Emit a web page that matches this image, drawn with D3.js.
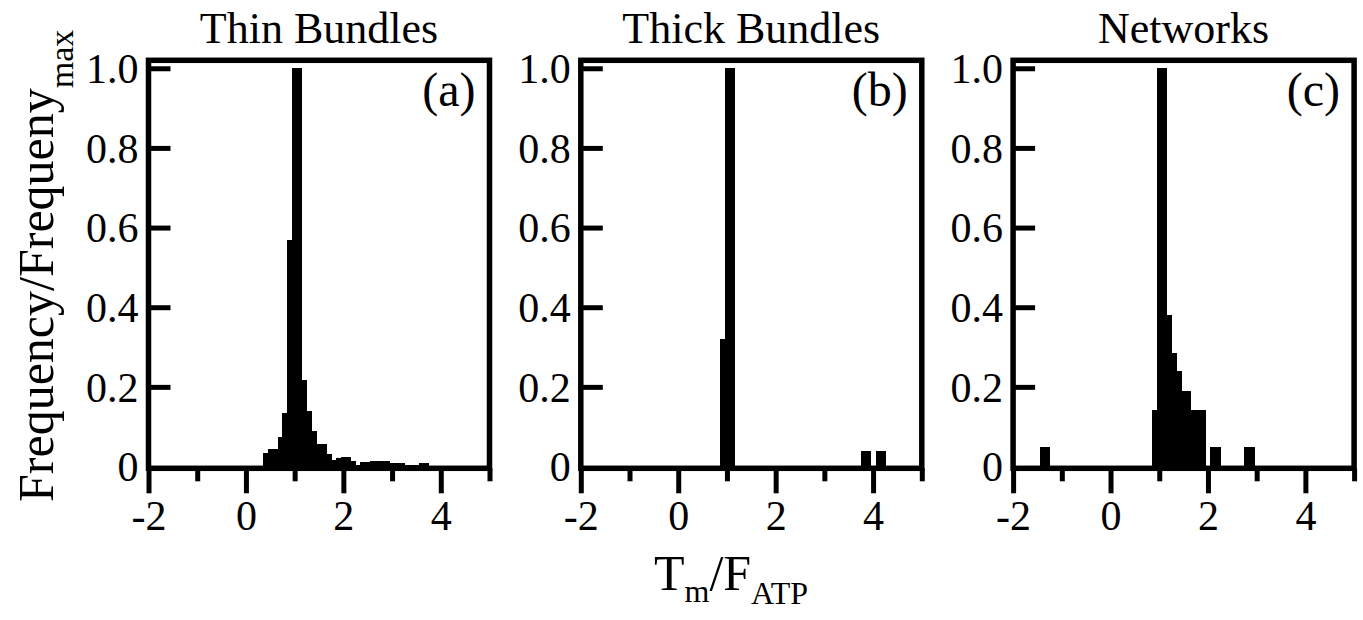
<!DOCTYPE html>
<html>
<head>
<meta charset="utf-8">
<script src="https://cdn.jsdelivr.net/npm/d3@7"></script>
<style>
    body { margin: 0; background: #fff; }
    svg text { font-family: 'Liberation Serif', 'DejaVu Serif', serif; fill: #000; }
</style>
</head>
<body>
<div id="chart"></div>
<script>
var panelTitles = ['Thin Bundles', 'Thick Bundles', 'Networks'];
var panelTags = ['(a)', '(b)', '(c)'];

var binWidth = 0.1;

var thinBinStarts = [0.35, 0.45, 0.55, 0.65, 0.75, 0.85, 0.95, 1.05, 1.15, 1.25, 1.35, 1.45,
    1.55, 1.65, 1.75, 1.85, 1.95, 2.05, 2.15, 2.25, 2.35, 2.45, 2.55, 2.65, 2.75, 2.85,
    2.95, 3.05, 3.15, 3.25, 3.35, 3.45, 3.55, 3.65];
var thinValues = [0.035, 0.044, 0.044, 0.073, 0.135, 0.57, 1.0, 1.0, 0.217, 0.14, 0.088, 0.057,
    0.057, 0.031, 0.017, 0.021, 0.023, 0.023, 0.015, 0.005, 0.0125, 0.0125, 0.015, 0.015, 0.015, 0.015,
    0.0085, 0.0085, 0.0085, 0.004, 0.004, 0.004, 0.0085, 0.0085];

var thickBinStarts = [0.85, 0.95, 1.05, 3.75, 3.85, 4.05, 4.15];
var thickValues = [0.32, 1.0, 1.0, 0.04, 0.04, 0.04, 0.04];

var networkBinStarts = [-1.45, -1.35, 0.85, 0.95, 1.05, 1.15, 1.25, 1.35, 1.45, 1.55, 1.65, 1.75,
    1.85, 2.05, 2.15, 2.75, 2.85];
var networkValues = [0.05, 0.05, 0.142, 1.0, 1.0, 0.38, 0.285, 0.24, 0.19, 0.19, 0.142, 0.142,
    0.142, 0.05, 0.05, 0.05, 0.05];

var xDomain = [-2, 5];
var yDomain = [-0.0045, 1.02];
var xMajorTicks = [-2, 0, 2, 4];
var xMinorTicks = [-1, 1, 3, 5];
var yTicks = [0, 0.2, 0.4, 0.6, 0.8, 1.0];

var series = [
    { starts: thinBinStarts, values: thinValues },
    { starts: thickBinStarts, values: thickValues },
    { starts: networkBinStarts, values: networkValues }
];

var width = 1363;
var height = 620;
var panelLeft = [148.5, 580.8, 1013.1];
var panelWidth = 341;
var plotTop = 60.3;
var plotBottom = 468.3;
var frameWidth = 5.5;

var svg = d3.select('#chart').append('svg')
    .attr('width', width)
    .attr('height', height);

var y = d3.scaleLinear().domain(yDomain).range([plotBottom, plotTop]);

var yFormat = function(d) {
    return d === 0 ? '0' : d3.format('.1f')(d);
};

series.forEach(function(s, i) {
    var x = d3.scaleLinear().domain(xDomain).range([panelLeft[i], panelLeft[i] + panelWidth]);
    var bins = s.starts.map(function(start, j) {
        return { x0: start, x1: start + binWidth, value: s.values[j] };
    });

    var g = svg.append('g').attr('class', 'panel');

    g.append('g')
        .attr('shape-rendering', 'crispEdges')
        .selectAll('rect').data(bins)
        .enter()
        .append('rect')
        .attr('x', function(d) { return x(d.x0); })
        .attr('width', function(d) { return x(d.x1) - x(d.x0) + 0.5; })
        .attr('y', function(d) { return y(d.value); })
        .attr('height', function(d) { return y(0) - y(d.value); })
        .attr('fill', '#000');

    // y ticks point inward
    var yAxis = g.append('g')
        .attr('transform', 'translate(' + panelLeft[i] + ',0)')
        .call(d3.axisLeft(y).tickValues(yTicks).tickFormat(yFormat).tickSize(-22).tickPadding(10));

    var xMajor = g.append('g')
        .attr('transform', 'translate(0,' + plotBottom + ')')
        .call(d3.axisBottom(x).tickValues(xMajorTicks).tickFormat(d3.format('d')).tickSize(25).tickPadding(7));

    var xMinor = g.append('g')
        .attr('transform', 'translate(0,' + plotBottom + ')')
        .call(d3.axisBottom(x).tickValues(xMinorTicks).tickFormat('').tickSize(13));

    [yAxis, xMajor, xMinor].forEach(function(axis) {
        axis.attr('font-size', 42).attr('font-family', null);
        axis.select('.domain').remove();
        axis.selectAll('line').attr('stroke', '#000').attr('stroke-width', 5);
        axis.selectAll('text').attr('fill', '#000');
    });
    yAxis.selectAll('.tick').filter(function(d) { return d === 0; }).select('line').remove();
    yAxis.selectAll('text').attr('dy', '0.34em');
    xMajor.selectAll('text').attr('dy', '0.7em').text(function(d) { return d < 0 ? '-' + Math.abs(d) : d; });

    g.append('rect')
        .attr('x', panelLeft[i])
        .attr('y', plotTop)
        .attr('width', panelWidth)
        .attr('height', plotBottom - plotTop)
        .attr('fill', 'none')
        .attr('stroke', '#000')
        .attr('stroke-width', frameWidth);

    g.append('text')
        .attr('x', panelLeft[i] + panelWidth / 2)
        .attr('y', 43)
        .attr('text-anchor', 'middle')
        .attr('font-size', 44)
        .text(panelTitles[i]);

    g.append('text')
        .attr('x', panelLeft[i] + panelWidth - 14)
        .attr('y', 106)
        .attr('text-anchor', 'end')
        .attr('font-size', 48)
        .text(panelTags[i]);
});

var yTitle = svg.append('text')
    .attr('transform', 'translate(53,502) rotate(-90)')
    .attr('text-anchor', 'start')
    .attr('font-size', 50);
yTitle.append('tspan').text('Frequency/Frequeny');
yTitle.append('tspan').attr('dy', 20).attr('font-size', 34).text('max');

var xTitle = svg.append('text')
    .attr('x', 731)
    .attr('y', 590)
    .attr('text-anchor', 'middle')
    .attr('font-size', 50);
xTitle.append('tspan').text('T');
xTitle.append('tspan').attr('dy', 12).attr('font-size', 32).text('m');
xTitle.append('tspan').attr('dy', -12).text('/F');
xTitle.append('tspan').attr('dy', 14).attr('font-size', 32).text('ATP');
</script>
</body>
</html>
